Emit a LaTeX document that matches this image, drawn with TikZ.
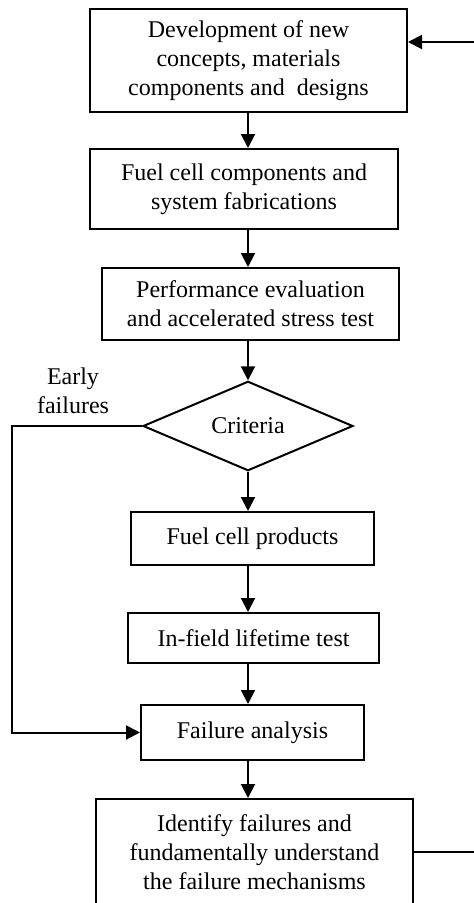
\documentclass[tikz,border=0pt]{standalone}
\usepackage{fontspec}
\setmainfont{Liberation Serif}
\usetikzlibrary{arrows.meta,shapes.geometric}
\begin{document}
\begin{tikzpicture}[x=1pt,y=-1pt,
  every node/.style={font=\fontsize{24}{29}\selectfont},
  stepbox/.style={draw,line width=2pt,align=center,inner sep=0pt},
  decision/.style={draw,line width=2pt,diamond,inner sep=0pt},
  arr/.style={line width=2pt,-{Triangle[length=14pt,width=14pt]}}]
\useasboundingbox (0,0) rectangle (474,903);

% process steps
\node[stepbox,minimum width=317pt,minimum height=103pt] (dev) at (248.5,60.5)
  {Development of new\\concepts, materials\\components and\ \ designs};
\node[stepbox,minimum width=308pt,minimum height=80pt] (fab) at (244,189)
  {Fuel cell components and\\system fabrications};
\node[stepbox,minimum width=297pt,minimum height=72pt] (perf) at (250.5,304)
  {Performance evaluation\\and accelerated stress test};
\node[decision,minimum width=210pt,minimum height=86pt] (crit) at (248,426) {Criteria};
\node[stepbox,minimum width=243pt,minimum height=53pt] (prod) at (252.5,538.5)
  {Fuel cell products};
\node[stepbox,minimum width=251pt,minimum height=50pt] (field) at (253.5,638)
  {In-field lifetime test};
\node[stepbox,minimum width=223pt,minimum height=55pt] (fail) at (252.5,732.5)
  {Failure analysis};
\node[stepbox,minimum width=317pt,minimum height=106pt] (ident) at (254.5,852)
  {Identify failures and\\fundamentally understand\\the failure mechanisms};

\node[align=center,inner sep=0pt] (early) at (73,391) {Early\\failures};

% main flow
\coordinate (spine) at (248,0);
\draw[arr] (spine |- dev.south) -- (spine |- fab.north);
\draw[arr] (spine |- fab.south) -- (spine |- perf.north);
\draw[arr] (spine |- perf.south) -- (crit.north);
\draw[arr] (crit.south) -- (spine |- prod.north);
\draw[arr] (spine |- prod.south) -- (spine |- field.north);
\draw[arr] (spine |- field.south) -- (spine |- fail.north);
\draw[arr] (spine |- fail.south) -- (spine |- ident.north);

% early failure bypass
\coordinate (lx) at (12,0);
\draw[arr] (crit.west) -- (crit.west -| lx) |- (fail.west);

% feedback loop back to development
\coordinate (rx) at (495,0);
\coordinate (fb) at ([yshift=-34pt]dev.north east);
\draw[arr] (ident.east) -- (ident.east -| rx) -- (rx |- fb) -- (fb);
\end{tikzpicture}
\end{document}
